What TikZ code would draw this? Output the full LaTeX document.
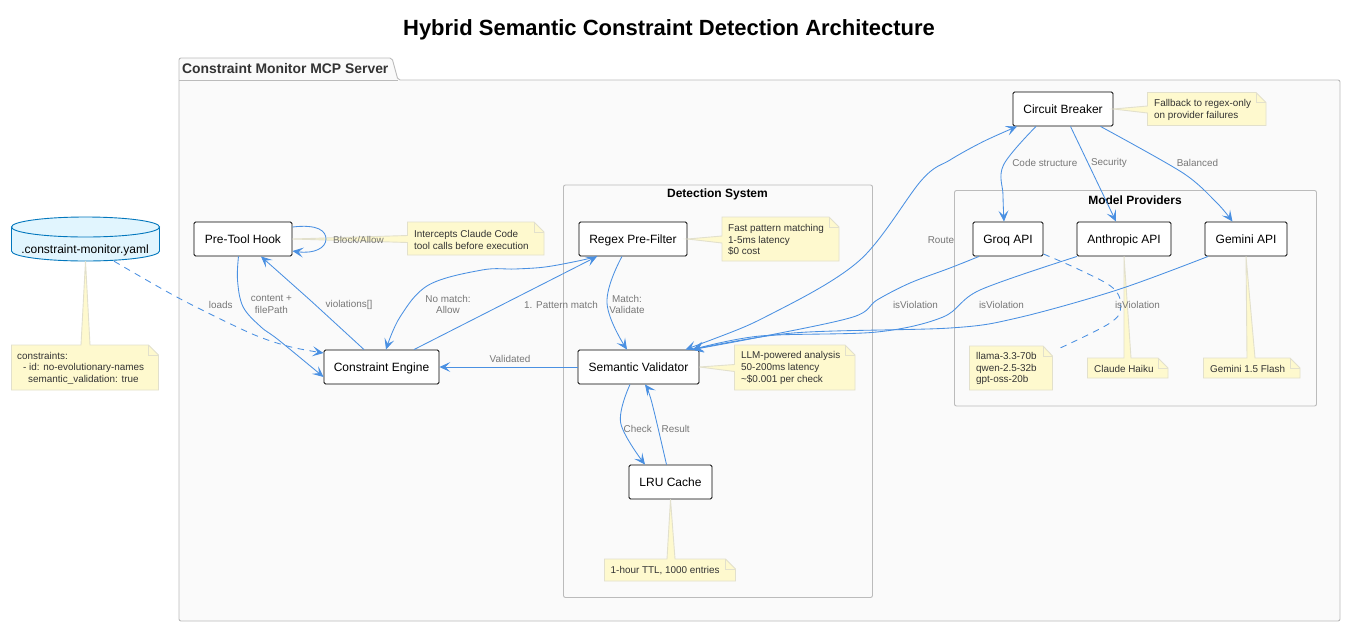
\documentclass[tikz,border=0pt]{standalone}
\usepackage{fontspec}
\setmainfont{Liberation Sans}
\usetikzlibrary{arrows.meta,calc}
\definecolor{flowblue}{HTML}{4A90E2}
\definecolor{notefill}{HTML}{FEF9CE}
\definecolor{noteline}{HTML}{E2E0CC}
\definecolor{framefill}{HTML}{FAFAFA}
\definecolor{frameline}{HTML}{BBBBBB}
\definecolor{labelgray}{HTML}{777777}
\definecolor{notetextc}{HTML}{333333}
\definecolor{dbfill}{HTML}{E1F5FE}
\definecolor{dbline}{HTML}{0277BD}
\tikzset{
  x=1pt,y=-1pt,
  framebox/.style={draw=frameline,fill=framefill,line width=.9pt,rounded corners=2pt},
  compbox/.style={draw=black,fill=white,line width=.9pt,rounded corners=1.5pt,inner sep=0pt,
     minimum height=34pt,text height=9pt,text depth=0pt,font=\fontsize{12}{14}\selectfont,text=black},
  flow/.style={draw=flowblue,line width=.85pt,-{Stealth[length=11pt,width=10pt,inset=5pt]}},
  dflow/.style={flow,dash pattern=on 6.5pt off 5.5pt},
  plainflow/.style={draw=flowblue,line width=.85pt,dash pattern=on 6.5pt off 5.5pt},
  elabel/.style={font=\fontsize{9.9}{11.5}\selectfont,text=labelgray,align=center,inner sep=0pt},
  notetext/.style={font=\fontsize{9.9}{11.6}\selectfont,text=notetextc,align=left,anchor=west,inner sep=0pt},
  notebody/.style={draw=noteline,fill=notefill,line width=.9pt},
  grptitle/.style={font=\bfseries\fontsize{12}{14}\selectfont,text=black,inner sep=0pt},
}
% x1 y1 x2 y2 target : pointer from the left side
\newcommand{\noteleft}[5]{%
  \draw[notebody] (#1,#2) -- ({#3-10},#2) -- (#3,{#2+10}) -- (#3,#4) -- (#1,#4) -- (#1,{(#2+#4)/2+4}) -- (#5) -- (#1,{(#2+#4)/2-3}) -- cycle;
  \draw[notebody,fill=none] ({#3-10},#2) -- ({#3-10},{#2+10}) -- (#3,{#2+10});
}
% x1 y1 x2 y2 target basex1 basex2 : pointer from the top side
\newcommand{\notetop}[7]{%
  \draw[notebody] (#1,#2) -- (#6,#2) -- (#5) -- (#7,#2) -- ({#3-10},#2) -- (#3,{#2+10}) -- (#3,#4) -- (#1,#4) -- cycle;
  \draw[notebody,fill=none] ({#3-10},#2) -- ({#3-10},{#2+10}) -- (#3,{#2+10});
}
\begin{document}
\begin{tikzpicture}
\useasboundingbox (0,0) rectangle (1346,627);
\fill[white] (0,0) rectangle (1346,627);

% title
\node[inner sep=0pt,font=\bfseries\fontsize{22}{26}\selectfont,text=black] (title) at (669,30) {Hybrid Semantic Constraint Detection Architecture};

% package frame
\draw[framebox] (179,80) -- (179,58) -- (392,58) -- (398,80) -- (1340,80) -- (1340,621) -- (179,621) -- cycle;
\draw[frameline,line width=.9pt] (179,80) -- (398,80);
\node[inner sep=0pt,anchor=west,font=\bfseries\fontsize{13.9}{16}\selectfont,text=notetextc] (pkgtitle) at (182,69) {Constraint Monitor MCP Server};

% groups
\draw[framebox] (563.5,185) rectangle (872.5,597.5);
\node[grptitle] (dettitle) at (717.5,194) {Detection System};
\draw[framebox] (954.5,190.5) rectangle (1316.5,406);
\node[grptitle] (modtitle) at (1135,200) {Model Providers};

% database
\draw[draw=dbline,fill=dbfill,line width=.9pt] (11.5,227) -- (11.5,251) arc[start angle=180,end angle=360,x radius=74pt,y radius=10pt] -- (159.5,227) -- cycle;
\draw[draw=dbline,fill=dbfill,line width=.9pt] (85.5,227) ellipse [x radius=74pt,y radius=10pt];
\node[inner sep=0pt,minimum width=148pt,minimum height=44pt] (yaml) at (85.5,239) {};
\node[inner sep=0pt,font=\fontsize{12}{14}\selectfont,text=black] (yamllabel) at (85,250) {.constraint-monitor.yaml};

% components
\node[compbox,minimum width=98pt]  (hook)   at (243,239)   {Pre-Tool Hook};
\node[compbox,minimum width=115pt] (engine) at (381.5,367) {Constraint Engine};
\node[compbox,minimum width=108pt] (regex)  at (633,239)   {Regex Pre-Filter};
\node[compbox,minimum width=121pt] (sem)    at (638.5,367) {Semantic Validator};
\node[compbox,minimum width=83pt]  (lru)    at (670.5,482) {LRU Cache};
\node[compbox,minimum width=100pt] (cb)     at (1063,109)  {Circuit Breaker};
\node[compbox,minimum width=70pt]  (groq)   at (1008,239)  {Groq API};
\node[compbox,minimum width=94pt]  (anth)   at (1124,239)  {Anthropic API};
\node[compbox,minimum width=82pt]  (gem)    at (1246,239)  {Gemini API};

% notes
\notetop{11.5}{345}{158.5}{390}{yaml.south}{81}{90}
\node[notetext] (n1) at (17,368) {constraints:\\\hspace*{6pt}- id: no-evolutionary-names\\\hspace*{11pt}semantic\_validation: true};
\noteleft{407.5}{222}{544}{255}{hook.east}
\node[notetext] (n2) at (414,240) {Intercepts Claude Code\\tool calls before execution};
\noteleft{722}{217}{839}{261}{regex.east}
\node[notetext] (n3) at (728,240) {Fast pattern matching\\1-5ms latency\\\$0 cost};
\noteleft{734.5}{345}{855}{390}{sem.east}
\node[notetext] (n4) at (741,368) {LLM-powered analysis\\50-200ms latency\\\textasciitilde\$0.001 per check};
\notetop{604.5}{559}{735.5}{581}{lru.south}{667}{675}
\node[notetext] (n5) at (610.5,571) {1-hour TTL, 1000 entries};
\noteleft{1147.5}{92.5}{1266}{125.5}{cb.east}
\node[notetext] (n6) at (1154,110) {Fallback to regex-only\\on provider failures};
\draw[notebody] (969.5,346) -- (1043,346) -- (1052.5,356) -- (1052.5,390) -- (969.5,390) -- cycle;
\draw[notebody,fill=none] (1043,346) -- (1043,356) -- (1052.5,356);
\node[notetext] (n7) at (976,368.5) {llama-3.3-70b\\qwen-2.5-32b\\gpt-oss-20b};
\notetop{1087.5}{358}{1168}{378}{anth.south}{1124}{1131}
\node[notetext] (n8) at (1094,368.5) {Claude Haiku};
\notetop{1203.5}{358}{1300}{378}{gem.south}{1247}{1255}
\node[notetext] (n9) at (1210,368.5) {Gemini 1.5 Flash};

% connectors
\draw[flow] ([yshift=12pt]hook.east) .. controls (318,224) and (326,231) .. (326,239) .. controls (326,248) and (314,254) .. ([yshift=-12pt]hook.east);
\draw[flow] plot[smooth,tension=.6] coordinates {([xshift=-4.5pt]hook.south) (237.5,280) (243,306.7) (260.7,326.7) (278.6,340) ([yshift=-10pt]engine.west)};
\draw[dflow] plot[smooth,tension=.5] coordinates {([xshift=28.5pt]yaml.south) (178.6,298) (250,333) (289,346.5) ([yshift=14pt]engine.west)};
\draw[flow] plot[smooth,tension=.2] coordinates {([xshift=-17.5pt]engine.north) (310,300) ([xshift=18pt]hook.south)};
\draw[flow] ([xshift=32.5pt]engine.north) -- ([xshift=-36pt]regex.south);
\draw[flow] plot[smooth,tension=.6] coordinates {([xshift=-36pt]regex.south) (578,261) (545,267) (515,269) (482,270) (428.6,285) (400,317) ([xshift=4.5pt]engine.north)};
\draw[flow] plot[smooth,tension=.7] coordinates {([xshift=-11pt]regex.south) (607,303) ([xshift=-11.5pt]sem.north)};
\draw[flow] (sem.west) -- (engine.east);
\draw[flow] plot[smooth,tension=.6] coordinates {([xshift=-8.5pt]sem.south) (620.7,423) ([xshift=-25.5pt]lru.north)};
\draw[flow] plot[smooth,tension=.6] coordinates {([xshift=-4pt]lru.north) (651.7,402) ([xshift=6.5pt]sem.south)};
% route (both ways)
\draw[flow,{Stealth[length=11pt,width=10pt,inset=5pt]}-{Stealth[length=11pt,width=10pt,inset=5pt]}] plot[smooth,tension=.55] coordinates {([xshift=47pt]sem.north) (773,313) (860,260) (921.7,180) (950,160) (983,141.7) ([xshift=-46pt]cb.south)};
% answers from providers
\draw[flow] plot[smooth,tension=.55] coordinates {([xshift=-29pt]groq.south) (950,268) (910,283) (877,300) (853,317) (760,337) ([xshift=54pt]sem.north)};
\draw[flow] plot[smooth,tension=.55] coordinates {([xshift=-47pt]anth.south) (980,290) (943,317) (877,332) (760,336) ([xshift=54pt]sem.north)};
\draw[flow] plot[smooth,tension=.55] coordinates {([xshift=-38pt]gem.south) (1117,290) (1017,318) (950,328) (793,333) ([xshift=54pt]sem.north)};
% circuit breaker to providers
\draw[flow] plot[smooth,tension=.6] coordinates {([xshift=-27pt]cb.south) (1003.5,165) (1003,195) ([xshift=-4pt]groq.north)};
\draw[flow] ([xshift=7.5pt]cb.south) -- ([xshift=-8pt]anth.north);
\draw[flow] plot[smooth,tension=.5] coordinates {([xshift=37.5pt]cb.south) (1183,173) (1217,203) ([xshift=-13.5pt]gem.north)};
% dashed link to the model list note
\draw[plainflow] plot[smooth,tension=.6] coordinates {([yshift=-15pt]groq.east) (1080,270) (1113,288) (1120.7,306.7) (1110,323) (1058,349)};

% edge labels
\node[elabel] (l1) at (358.5,240) {Block/Allow};
\node[elabel] (l2) at (220.7,304.5) {loads};
\node[elabel] (l3) at (271.4,304.5) {content +\\filePath};
\node[elabel] (l4) at (349,304.5) {violations[]};
\node[elabel] (l5) at (448,304.5) {No match:\\Allow};
\node[elabel] (l6) at (561,304.5) {1. Pattern match};
\node[elabel] (l7) at (627,304.5) {Match:\\Validate};
\node[elabel] (l8) at (510,359) {Validated};
\node[elabel] (l9) at (637.7,429) {Check};
\node[elabel] (l10) at (675.7,429) {Result};
\node[elabel] (l11) at (941,240) {Route};
\node[elabel] (l12) at (1044.8,163) {Code structure};
\node[elabel] (l13) at (1109,163) {Security};
\node[elabel] (l14) at (1197.5,163) {Balanced};
\node[elabel] (l15) at (915.5,304.5) {isViolation};
\node[elabel] (l16) at (1001.5,304.5) {isViolation};
\node[elabel] (l17) at (1137.5,304.5) {isViolation};
\end{tikzpicture}
\end{document}
